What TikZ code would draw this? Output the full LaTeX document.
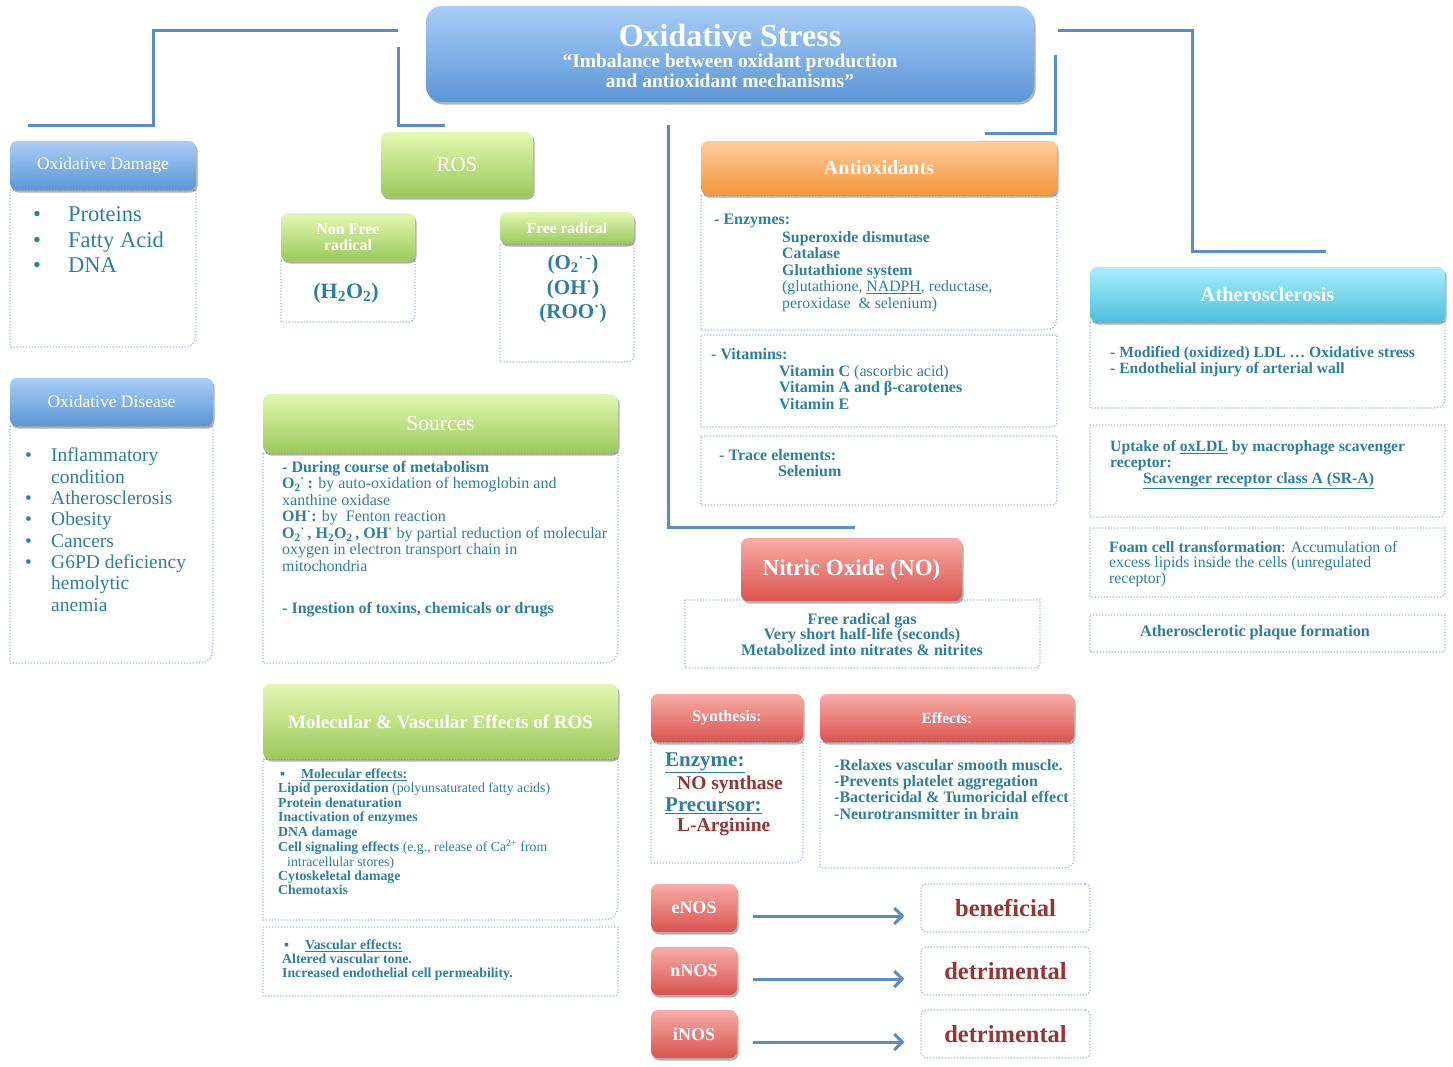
\documentclass[tikz,border=0pt]{standalone}
\usepackage{fontspec}
\setmainfont{Liberation Serif}
\usetikzlibrary{shadows,arrows.meta}
\definecolor{txt}{HTML}{2E7F9E}
\definecolor{dred}{HTML}{943634}
\definecolor{lnblue}{HTML}{5A8DC8}
\definecolor{dotc}{HTML}{A3BEE0}
\definecolor{bluetop}{HTML}{A9CDF7}
\definecolor{bluebot}{HTML}{5A96D6}
\definecolor{greentop}{HTML}{E3F7B2}
\definecolor{greenbot}{HTML}{9CC95A}
\definecolor{orgtop}{HTML}{FDCC9C}
\definecolor{orgbot}{HTML}{F7963C}
\definecolor{cyantop}{HTML}{AAEDFA}
\definecolor{cyanbot}{HTML}{4BC1DC}
\definecolor{redtop}{HTML}{F9ACA7}
\definecolor{redbot}{HTML}{D9534E}
\newcommand\fz[2]{\fontsize{#1pt}{#2pt}\selectfont}
\newcommand\bodybox[5]{\draw[bodyline] (#1,#2) -- (#3,#2) -- (#3,#4-#5) .. controls (#3,#4) .. (#3-#5,#4) -- (#1,#4) -- cycle;}
\tikzset{
  conn/.style={draw=lnblue, line width=3pt},
  bodyline/.style={draw=dotc, line width=1.3pt, dash pattern=on 1.3pt off 1.7pt, fill=white},
  hdrbase/.style={rounded corners=7pt, inner sep=0pt, text=white, align=center,
    drop shadow={shadow xshift=1.5pt, shadow yshift=-2.5pt, opacity=0.3, fill=black}},
  blueH/.style={hdrbase, top color=bluetop, bottom color=bluebot},
  greenH/.style={hdrbase, top color=greentop, bottom color=greenbot},
  orgH/.style={hdrbase, top color=orgtop, bottom color=orgbot},
  cyanH/.style={hdrbase, top color=cyantop, bottom color=cyanbot},
  redH/.style={hdrbase, top color=redtop, bottom color=redbot},
  tx/.style={inner sep=0pt, text=txt, anchor=west, align=left},
  txn/.style={tx, anchor=north west},
  resbox/.style={bodyline, rounded corners=5pt, minimum width=169pt, minimum height=48pt, inner sep=0pt,
    text=dred, font=\fz{24.5}{28}\bfseries},
  arr/.style={draw=lnblue, line width=3pt, -{Straight Barb[length=8pt,width=16pt,line width=3pt]}, shorten <=16pt, shorten >=16pt}
}
\begin{document}
\begin{tikzpicture}[x=1pt,y=-1pt]
\useasboundingbox[fill=white] (0,0) rectangle (1453,1066);

% connectors
\coordinate (c1a) at (398,30); \coordinate (c1b) at (153,125); \coordinate (c1c) at (28,125);
\coordinate (c2a) at (398,47); \coordinate (c2b) at (445,125);
\coordinate (c3a) at (668,125); \coordinate (c3b) at (855,527);
\coordinate (c4a) at (1058,30); \coordinate (c4b) at (1192,251); \coordinate (c4c) at (1326,251);
\coordinate (c5a) at (1055,55); \coordinate (c5b) at (985,133);
\draw[conn] (c1a) -| (c1b) -- (c1c);
\draw[conn] (c2a) |- (c2b);
\draw[conn] (c3a) |- (c3b);
\draw[conn] (c4a) -| (c4b) -- (c4c);
\draw[conn] (c5a) |- (c5b);

% title
\node[blueH, rounded corners=16pt, minimum width=608pt, minimum height=96pt] (title) at (730,54) {};
\node[inner sep=0pt, text=white, font=\fz{32}{36}\bfseries] (titletxt) at (730,36) {Oxidative Stress};
\node[inner sep=0pt, text=white, align=center, font=\fz{19.5}{20}\bfseries] (subtxt) at (730,71) {“Imbalance between oxidant production\\and antioxidant mechanisms”};

% bodies
\bodybox{10}{190}{196}{347}{25}
\bodybox{10}{426}{213}{663}{30}
\bodybox{281}{260}{415}{322}{15}
\bodybox{500}{244}{634}{362}{15}
\bodybox{263}{453}{618}{663}{30}
\bodybox{263}{759}{618}{920}{30}
\bodybox{263}{927}{618}{996}{8}
\bodybox{701}{195}{1057}{330}{25}
\bodybox{701}{335}{1057}{427}{12}
\bodybox{701}{436}{1057}{505}{10}
\bodybox{1090}{322}{1445}{408}{20}
\bodybox{1090}{425}{1445}{517}{12}
\bodybox{1090}{528}{1445}{597}{10}
\bodybox{1090}{615}{1445}{652}{6}
\bodybox{685}{600}{1040}{668}{10}
\bodybox{651}{742}{803}{863}{20}
\bodybox{820}{742}{1074}{868}{20}

% headers
\node[blueH, minimum width=186pt, minimum height=49pt, font=\fz{17.5}{20}] (dmgH) at (103,165.5) {Oxidative Damage};
\node[blueH, minimum width=203pt, minimum height=48pt, font=\fz{17.5}{20}] (disH) at (111.5,402) {Oxidative Disease};
\node[greenH, minimum width=152pt, minimum height=65pt, font=\fz{21}{24}] (ros) at (457,164.5) {ROS};
\node[greenH, minimum width=134pt, minimum height=48pt, font=\fz{16}{16}\bfseries] (nfH) at (348,237) {Non Free\\radical};
\node[greenH, minimum width=134pt, minimum height=32pt, font=\fz{15.5}{17}\bfseries] (frH) at (567,228) {Free radical};
\node[greenH, minimum width=355pt, minimum height=59pt, font=\fz{21.5}{24}] (srcH) at (440.5,423.5) {Sources};
\node[greenH, minimum width=355pt, minimum height=75pt, font=\fz{19}{22}\bfseries] (molH) at (440.5,721.5) {Molecular \& Vascular Effects of ROS};
\node[orgH, minimum width=356pt, minimum height=54pt, font=\fz{20}{23}\bfseries] (antH) at (879,168) {Antioxidants};
\node[cyanH, minimum width=355pt, minimum height=55pt, font=\fz{20.5}{23}\bfseries] (athH) at (1267.5,294.5) {Atherosclerosis};
\node[redH, minimum width=221pt, minimum height=63pt, font=\fz{23}{26}\bfseries] (noH) at (851.5,569.5) {Nitric Oxide (NO)};
\node[redH, minimum width=152pt, minimum height=48pt, font=\fz{16}{18}\bfseries] (synH) at (727,718) {Synthesis:};
\node[redH, minimum width=254pt, minimum height=48pt, font=\fz{15.5}{18}\bfseries] (effH) at (947,718) {Effects:};
\node[redH, minimum width=86pt, minimum height=48pt, font=\fz{18}{20}\bfseries] (enos) at (694,908) {eNOS};
\node[redH, minimum width=86pt, minimum height=48pt, font=\fz{18}{20}\bfseries] (nnos) at (694,971) {nNOS};
\node[redH, minimum width=86pt, minimum height=48pt, font=\fz{18}{20}\bfseries] (inos) at (694,1034) {iNOS};

% results
\node[resbox] (ben) at (1005.5,908) {beneficial};
\node[resbox] (det1) at (1005.5,971) {detrimental};
\node[resbox] (det2) at (1005.5,1034) {detrimental};
\draw[arr] ([yshift=-8pt]enos.east) -- ([yshift=-8pt]ben.west);
\draw[arr] ([yshift=-8pt]nnos.east) -- ([yshift=-8pt]det1.west);
\draw[arr] ([yshift=-8pt]inos.east) -- ([yshift=-8pt]det2.west);

% Oxidative damage list
\node[txn, font=\fz{22.5}{25.5}] (dmglist) at (33,206.5) {\makebox[35pt][l]{•}Proteins\\\makebox[35pt][l]{•}Fatty Acid\\\makebox[35pt][l]{•}DNA};
% Oxidative disease list
\node[txn, font=\fz{19.5}{21.3}] (dislist) at (25,448) {\makebox[26pt][l]{•}Inflammatory\\\hspace*{26pt}condition\\\makebox[26pt][l]{•}Atherosclerosis\\\makebox[26pt][l]{•}Obesity\\\makebox[26pt][l]{•}Cancers\\\makebox[26pt][l]{•}G6PD deficiency\\\hspace*{26pt}hemolytic\\\hspace*{26pt}anemia};

% ROS details
\node[inner sep=0pt, text=txt, font=\fz{22}{24}\bfseries] (h2o2) at (346,293) {(H\textsubscript{2}O\textsubscript{2})};
\node[inner sep=0pt, text=txt, anchor=north, align=center, font=\fz{21}{24.5}\bfseries] (frlist) at (573,255) {(O\textsubscript{2}\textsuperscript{·\,-})\\(OH\textsuperscript{·})\\(ROO\textsuperscript{·})};

% Sources
\node[txn, font=\fz{16}{16.5}] (srctxt) at (282,461) {\textbf{- During course of metabolism}\\
\textbf{O\textsubscript{2}\textsuperscript{·}\,:} by auto-oxidation of hemoglobin and\\
xanthine oxidase\\
\textbf{OH\textsuperscript{·}:} by\ \ Fenton reaction\\
\textbf{O\textsubscript{2}\textsuperscript{·}\,, H\textsubscript{2}O\textsubscript{2}\,, OH\textsuperscript{·}} by partial reduction of molecular\\
oxygen in electron transport chain in\\
mitochondria};
\node[tx, font=\fz{16}{16.5}\bfseries] (srctxt2) at (282,610) {- Ingestion of toxins, chemicals or drugs};

% Molecular effects
\node[txn, font=\fz{13.8}{14.4}] (moltxt) at (278,768.5) {\hspace*{2pt}▪\hspace{16pt}\textbf{\underline{Molecular effects:}}\\
\textbf{Lipid peroxidation} (polyunsaturated fatty acids)\\
\textbf{Protein denaturation}\\
\textbf{Inactivation of enzymes}\\
\textbf{DNA damage}\\
\textbf{Cell signaling effects} (e.g., release of Ca\textsuperscript{2+} from\\
\hspace*{9pt}intracellular stores)\\
\textbf{Cytoskeletal damage}\\
\textbf{Chemotaxis}};
\node[txn, font=\fz{13.8}{14.2}\bfseries] (vastxt) at (282,939.5) {\hspace*{2pt}▪\hspace{16pt}\underline{Vascular effects:}\\
Altered vascular tone.\\
Increased endothelial cell permeability.};

% Antioxidants
\node[tx, font=\fz{16}{16.5}\bfseries] (enz) at (714,221) {- Enzymes:};
\node[txn, font=\fz{15.8}{16.5}] (enzlist) at (782,231) {\textbf{Superoxide dismutase}\\\textbf{Catalase}\\\textbf{Glutathione system}\\(glutathione, \underline{NADPH}, reductase,\\peroxidase\ \ \& selenium)};
\node[tx, font=\fz{16}{16.5}\bfseries] (vit) at (711,354) {- Vitamins:};
\node[txn, font=\fz{16}{16.5}] (vitlist) at (779,365) {\textbf{Vitamin C} (ascorbic acid)\\\textbf{Vitamin A and β-carotenes}\\\textbf{Vitamin E}};
\node[tx, font=\fz{16}{16.5}\bfseries] (trace) at (719,455) {- Trace elements:};
\node[tx, font=\fz{16}{16.5}\bfseries] (sel) at (778,471) {Selenium};

% Atherosclerosis
\node[txn, font=\fz{15.6}{16}\bfseries] (ath1) at (1110,346) {- Modified (oxidized) LDL … Oxidative stress\\- Endothelial injury of arterial wall};
\node[txn, font=\fz{15.7}{16}\bfseries] (ath2) at (1110,440) {Uptake of \underline{oxLDL} by macrophage scavenger\\receptor:\\\hspace*{33pt}\underline{Scavenger receptor class A (SR-A)}};
\node[txn, font=\fz{15.8}{15.5}] (ath3) at (1109,541) {\textbf{Foam cell transformation}: Accumulation of\\excess lipids inside the cells (unregulated\\receptor)};
\node[inner sep=0pt, text=txt, font=\fz{16.2}{18}\bfseries] (ath4) at (1255,633) {Atherosclerotic plaque formation};

% NO
\node[inner sep=0pt, text=txt, align=center, font=\fz{16}{15.5}\bfseries] (notxt) at (862,634.5) {Free radical gas\\Very short half-life (seconds)\\Metabolized into nitrates \& nitrites};
\node[tx, font=\fz{21}{24}\bfseries] (enzy) at (665,763) {\underline{Enzyme:}};
\node[tx, text=dred, font=\fz{19.5}{22}\bfseries] (nos) at (677,785) {NO synthase};
\node[tx, font=\fz{21}{24}\bfseries] (prec) at (665,806) {\underline{Precursor:}};
\node[tx, text=dred, font=\fz{19.5}{22}\bfseries] (larg) at (677,827) {L-Arginine};
\node[txn, font=\fz{16}{16.3}\bfseries] (efftxt) at (834,759) {-Relaxes vascular smooth muscle.\\-Prevents platelet aggregation\\-Bactericidal \& Tumoricidal effect\\-Neurotransmitter in brain};
\end{tikzpicture}
\end{document}
